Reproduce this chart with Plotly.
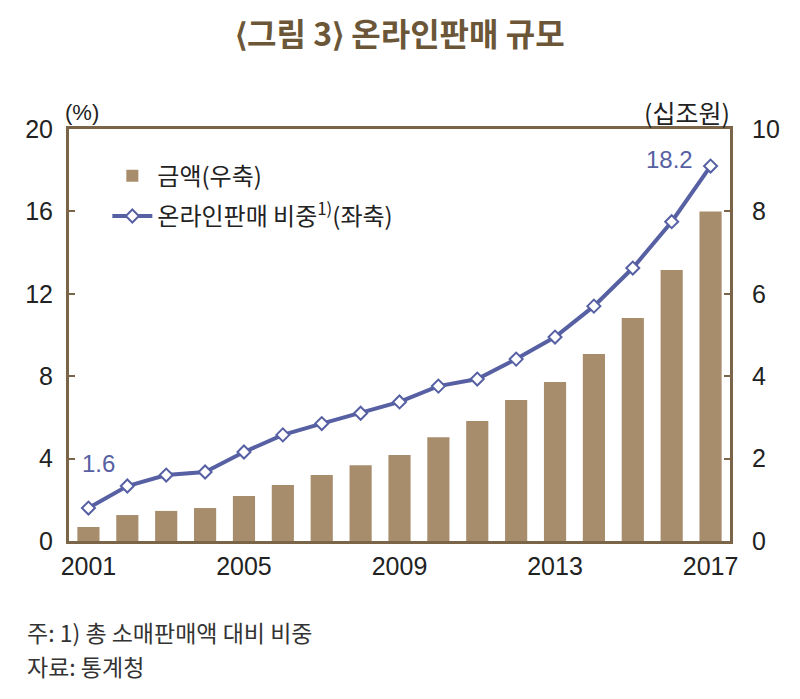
import plotly.graph_objects as go

years = list(range(2001, 2018))
amount = [0.34, 0.63, 0.73, 0.80, 1.09, 1.36, 1.60, 1.84, 2.09, 2.52, 2.91, 3.42, 3.86, 4.54, 5.41, 6.58, 8.00]
share = [1.6, 2.67, 3.2, 3.35, 4.32, 5.15, 5.7, 6.2, 6.75, 7.52, 7.86, 8.83, 9.9, 11.4, 13.25, 15.5, 18.2]
xticks = [2001, 2005, 2009, 2013, 2017]
left_ticks = [0, 4, 8, 12, 16, 20]
right_ticks = [0, 2, 4, 6, 8, 10]

FONT = "Liberation Sans, Noto Sans CJK KR, sans-serif"
KFONT = "Noto Sans CJK KR, sans-serif"
BAR = "#a88d6d"
LINE = "#5660a3"
FRAME = "#7a6548"

fig = go.Figure()
fig.add_trace(go.Bar(
    x=years, y=amount, name="금액(우축)", marker=dict(color=BAR, line=dict(width=0)),
    width=0.57, yaxis="y", legendgroup="a",
))
fig.add_trace(go.Scatter(
    x=years, y=share, name="온라인판매 비중<sup>1)</sup>(좌축)", mode="lines+markers",
    line=dict(color=LINE, width=4),
    marker=dict(symbol="diamond", size=10, color="white", line=dict(color=LINE, width=2)),
    yaxis="y2", legendgroup="b",
))

fig.update_layout(
    width=792, height=691,
    margin=dict(l=61, r=70, t=121, b=158, autoexpand=False),
    paper_bgcolor="white", plot_bgcolor="white",
    showlegend=True,
    legend=dict(x=0.058, y=0.94, xanchor="left", yanchor="top", traceorder="grouped",
                font=dict(family=KFONT, size=24, color="#222"),
                bgcolor="rgba(0,0,0,0)", tracegroupgap=6, itemwidth=40),
    xaxis=dict(range=[2000.5, 2017.5], tickvals=xticks, ticks="", showgrid=False,
               showline=True, linecolor=FRAME, linewidth=3, mirror=True, automargin=False,
               tickfont=dict(family=FONT, size=25, color="#222"), zeroline=False,
               ticklabelstandoff=1),
    yaxis=dict(range=[0, 10], tickvals=right_ticks, side="right", showgrid=False,
               ticks="inside", ticklen=6, tickcolor=FRAME, tickwidth=2, automargin=False,
               showline=True, linecolor=FRAME, linewidth=3,
               tickfont=dict(family=FONT, size=25, color="#222"), zeroline=False,
               ticklabelstandoff=14),
    yaxis2=dict(range=[0, 20], tickvals=left_ticks, side="left", overlaying="y", showgrid=False,
                ticks="inside", ticklen=6, tickcolor=FRAME, tickwidth=2, automargin=False,
                showline=True, linecolor=FRAME, linewidth=3,
                tickfont=dict(family=FONT, size=25, color="#222"), zeroline=False,
                ticklabelstandoff=8),
    bargap=0.4,
)

fig.add_annotation(text="⟨그림 3⟩ 온라인판매 규모", xref="paper", yref="paper", x=0.5, y=1.0,
                   yshift=97, showarrow=False, xanchor="center", yanchor="middle", borderpad=0,
                   font=dict(family=KFONT, size=32, color="#6b5638", weight="bold"))
fig.add_annotation(text="(%)", xref="paper", yref="paper", x=0.0, y=1.0, xshift=-6, yshift=17,
                   xanchor="left", yanchor="middle", showarrow=False,
                   font=dict(family=FONT, size=22, color="#222"))
fig.add_annotation(text="(십조원)", xref="paper", yref="paper", x=1.0, y=1.0, xshift=2, yshift=17,
                   xanchor="right", yanchor="middle", showarrow=False,
                   font=dict(family=KFONT, size=25, color="#222"))
fig.add_annotation(text="1.6", x=years[0], y=share[0], xref="x", yref="y2", xshift=10, yshift=45,
                   showarrow=False, font=dict(family=FONT, size=24, color=LINE))
fig.add_annotation(text="18.2", x=years[-1], y=share[-1], xref="x", yref="y2", xshift=-41, yshift=7,
                   showarrow=False, font=dict(family=FONT, size=24, color=LINE))
fig.add_annotation(text="주: 1) 총 소매판매액 대비 비중", xref="paper", yref="paper", x=0, y=0,
                   xshift=-44, yshift=-91, xanchor="left", yanchor="middle", showarrow=False,
                   font=dict(family=KFONT, size=23, color="#333"))
fig.add_annotation(text="자료: 통계청", xref="paper", yref="paper", x=0, y=0,
                   xshift=-44, yshift=-125, xanchor="left", yanchor="middle", showarrow=False,
                   font=dict(family=KFONT, size=23, color="#333"))

fig.write_html("out.html")
